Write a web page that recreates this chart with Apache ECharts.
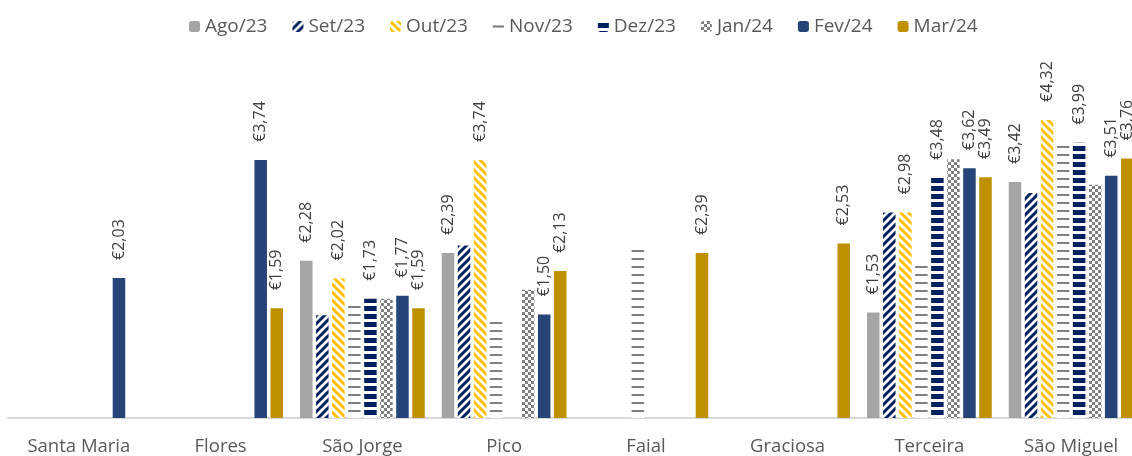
<!DOCTYPE html>
<html>
<head>
<meta charset="utf-8">
<script src="https://cdn.jsdelivr.net/npm/echarts@6/dist/echarts.min.js"></script>
<style>
  html, body { margin: 0; padding: 0; background: #fff; }
  #chart { width: 1132px; height: 456px; }
</style>
</head>
<body>
<div id="chart"></div>
<script>
  // ilhas
  var islands = ['Santa Maria', 'Flores', 'São Jorge', 'Pico', 'Faial', 'Graciosa', 'Terceira', 'São Miguel']
  var months = ['Ago/23', 'Set/23', 'Out/23', 'Nov/23', 'Dez/23', 'Jan/24', 'Fev/24', 'Mar/24']

  // valores por mês (preço médio, €)
  var ago23 = ['-', '-', 2.28, 2.39, '-', '-', 1.53, 3.42]
  var set23 = ['-', '-', 1.49, 2.50, '-', '-', 2.98, 3.26]
  var out23 = ['-', '-', 2.02, 3.74, '-', '-', 2.98, 4.32]
  var nov23 = ['-', '-', 1.69, 1.42, 2.51, '-', 2.28, 3.99]
  var dez23 = ['-', '-', 1.73, '-', '-', '-', 3.48, 3.99]
  var jan24 = ['-', '-', 1.73, 1.86, '-', '-', 3.75, 3.38]
  var fev24 = [2.03, 3.74, 1.77, 1.50, '-', '-', 3.62, 3.51]
  var mar24 = ['-', 1.59, 1.59, 2.13, 2.39, 2.53, 3.49, 3.76]

  var FONT = 'Open Sans'

  // padrões (texturas) das barras
  function tile(w, h, draw) {
    var c = document.createElement('canvas')
    c.width = w
    c.height = h
    var ctx = c.getContext('2d')
    ctx.fillStyle = '#fff'
    ctx.fillRect(0, 0, w, h)
    draw(ctx)
    return { image: c, repeat: 'repeat' }
  }

  function diag(color, up) {
    return tile(8, 8, function (ctx) {
      ctx.strokeStyle = color
      ctx.lineWidth = 3
      ctx.beginPath()
      if (up) {
        ctx.moveTo(-2, 10); ctx.lineTo(10, -2)
        ctx.moveTo(-6, 6); ctx.lineTo(6, -6)
        ctx.moveTo(2, 14); ctx.lineTo(14, 2)
      } else {
        ctx.moveTo(-2, -2); ctx.lineTo(10, 10)
        ctx.moveTo(-6, 2); ctx.lineTo(6, 14)
        ctx.moveTo(2, -6); ctx.lineTo(14, 6)
      }
      ctx.stroke()
    })
  }

  var patSet = diag('#002060', true)
  var patOut = diag('#FFC000', false)
  var patNov = tile(4, 8, function (ctx) {
    ctx.fillStyle = '#808080'
    ctx.fillRect(0, 2, 4, 2)
  })
  var patDez = tile(4, 8, function (ctx) {
    ctx.fillStyle = '#002060'
    ctx.fillRect(0, 2, 4, 5)
  })
  var patJan = tile(6, 6, function (ctx) {
    ctx.fillStyle = '#808080'
    ctx.fillRect(0, 0, 3, 3)
    ctx.fillRect(3, 3, 3, 3)
  })

  var valueLabel = {
    show: true,
    position: 'top',
    rotate: 90,
    align: 'left',
    verticalAlign: 'middle',
    distance: 18,
    fontFamily: FONT,
    fontSize: 16,
    color: '#404040',
    formatter: function (p) {
      return '€' + Number(p.value).toFixed(2).replace('.', ',')
    }
  }

  function bar(name, data, color, withLabel) {
    return {
      name: name,
      type: 'bar',
      data: data,
      barGap: '28%',
      barCategoryGap: '12%',
      itemStyle: { color: color },
      label: withLabel ? valueLabel : { show: false },
      emphasis: { disabled: true }
    }
  }

  // legenda: Nov/23 aparece só como um traço
  var legendData = months.map(function (m) {
    if (m === 'Nov/23') {
      return { name: m, icon: 'path://M0,0 L0,0 M0,4 L10,4 L10,6 L0,6 Z M10,10 L10,10', itemStyle: { color: '#808080' } }
    }
    return { name: m }
  })

  var chart = echarts.init(document.getElementById('chart'))

  chart.setOption({
    animation: false,
    legend: {
      top: 12,
      left: 184,
      itemWidth: 11,
      itemHeight: 11,
      itemGap: 25,
      textStyle: {
        fontFamily: FONT,
        fontSize: 19,
        color: '#595959'
      },
      data: legendData
    },
    grid: {
      top: 73,
      bottom: 38,
      left: 8,
      right: -10,
      outerBoundsMode: 'none'
    },
    xAxis: {
      type: 'category',
      data: islands,
      axisLine: { lineStyle: { color: '#d9d9d9', width: 2 } },
      axisTick: { show: false },
      axisLabel: {
        margin: 19,
        fontFamily: FONT,
        fontSize: 18.5,
        color: '#595959'
      }
    },
    yAxis: {
      type: 'value',
      min: 0,
      max: 5,
      show: false,
      splitLine: { show: false }
    },
    series: [
      bar(months[0], ago23, '#A5A5A5', true),
      bar(months[1], set23, patSet, false),
      bar(months[2], out23, patOut, true),
      bar(months[3], nov23, patNov, false),
      bar(months[4], dez23, patDez, true),
      bar(months[5], jan24, patJan, false),
      bar(months[6], fev24, '#264478', true),
      bar(months[7], mar24, '#BF9000', true)
    ]
  })
</script>
</body>
</html>
